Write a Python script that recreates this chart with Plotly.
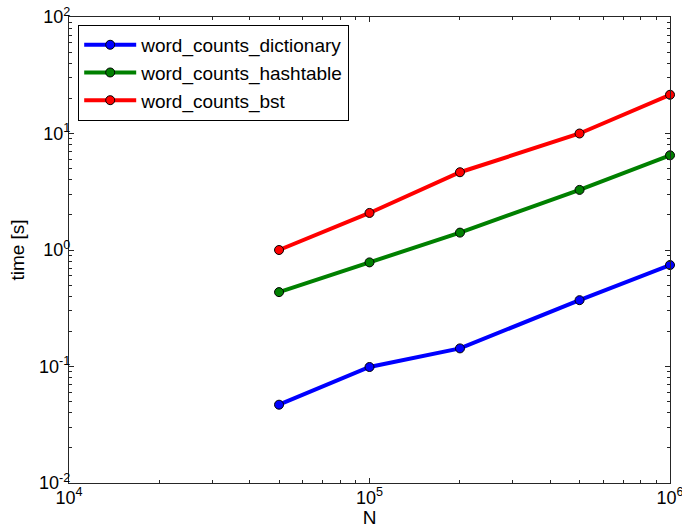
import plotly.graph_objects as go

N = [5e4, 1e5, 2e5, 5e5, 1e6]
t_dictionary = [0.047, 0.099, 0.143, 0.371, 0.743]
t_hashtable = [0.435, 0.783, 1.41, 3.28, 6.5]
t_bst = [1.0, 2.08, 4.65, 10.0, 21.5]

x_tickvals = [1e4, 1e5, 1e6]
x_ticktext = ["10<sup>4</sup>", "10<sup>5</sup>", "10<sup>6</sup>"]
y_tickvals = [1e-2, 1e-1, 1e0, 1e1, 1e2]
y_ticktext = ["10<sup>-2</sup>", "10<sup>-1</sup>", "10<sup>0</sup>", "10<sup>1</sup>", "10<sup>2</sup>"]

series = [
    ("word_counts_dictionary", t_dictionary, "#0000FF"),
    ("word_counts_hashtable", t_hashtable, "#008000"),
    ("word_counts_bst", t_bst, "#FF0000"),
]

FONT = "Liberation Sans, Arial, sans-serif"

fig = go.Figure()
for name, ys, col in series:
    fig.add_trace(go.Scatter(
        x=N, y=ys, name=name, mode="lines+markers",
        line=dict(color=col, width=4),
        marker=dict(color=col, size=9, line=dict(color="black", width=1)),
        cliponaxis=False,
    ))

def axis(rng, tv, tt, title, lab_standoff, title_standoff):
    return dict(
        type="log", range=rng, autorange=False, automargin=False,
        showgrid=False, zeroline=False,
        showline=True, linecolor="#262626", linewidth=1.3, mirror="allticks",
        ticks="inside", ticklen=5, tickwidth=1, tickcolor="#262626",
        tickmode="array", tickvals=tv, ticktext=tt,
        ticklabelstandoff=lab_standoff, ticklabeloverflow="allow",
        tickfont=dict(family=FONT, size=18, color="black"),
        minor=dict(ticks="inside", ticklen=2.5, tickwidth=1, tickcolor="#262626",
                   tickmode="array",
                   tickvals=[m * 10 ** e for e in range(-3, 7) for m in range(2, 10)]),
        title=dict(text=title, font=dict(family=FONT, size=19, color="black"),
                   standoff=title_standoff),
    )

fig.update_layout(
    width=682, height=528,
    margin=dict(l=69, r=12, t=17, b=45, autoexpand=False),
    paper_bgcolor="white", plot_bgcolor="white",
    font=dict(family=FONT, size=18, color="black"),
    xaxis=axis([4, 6], x_tickvals, x_ticktext, "N", -2, 4),
    yaxis=axis([-2, 2], y_tickvals, y_ticktext, "time [s]", -6, 9),
    legend=dict(x=0.0153, y=0.983, xanchor="left", yanchor="top",
                bordercolor="black", borderwidth=1, bgcolor="white",
                font=dict(family=FONT, size=19), itemwidth=52),
    showlegend=True,
)

fig.write_html("out.html", config={"displayModeBar": False},
               post_script="document.body.style.margin='0';document.body.style.padding='0';")
